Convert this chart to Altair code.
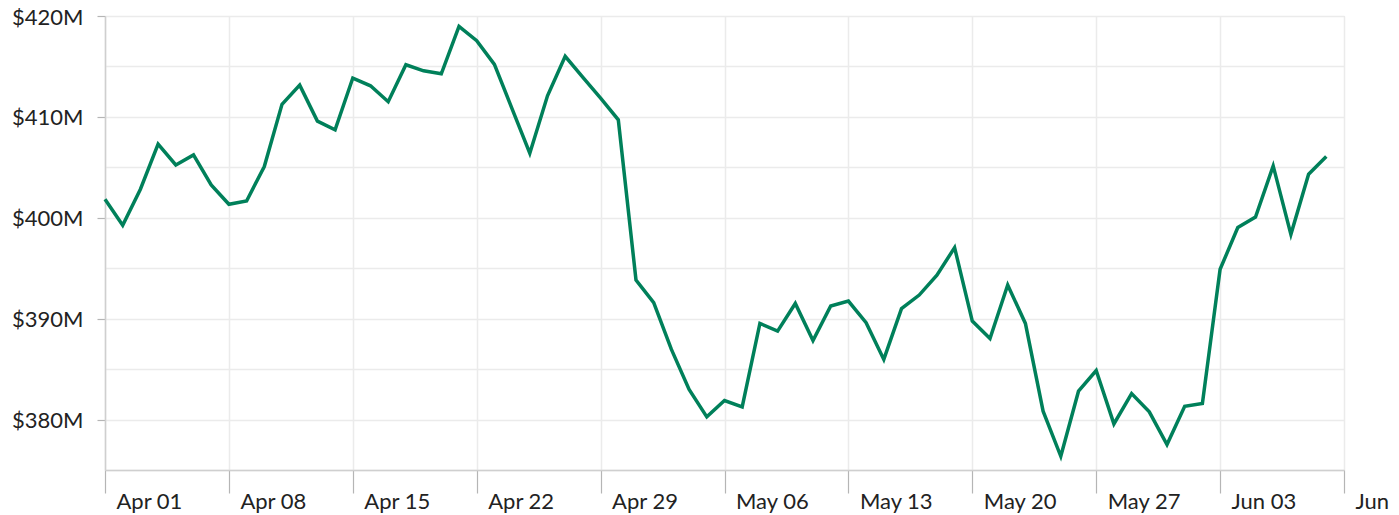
import altair as alt
import pandas as pd

# Daily values (in $M), Apr 01 .. Jun 09
apr_values = [401.84, 399.26, 402.83, 407.30, 405.24, 406.23, 403.26, 401.34, 401.67, 405.08,
              411.24, 413.15, 409.58, 408.72, 413.85, 413.08, 411.50, 415.17, 414.57, 414.27,
              418.97, 417.55, 415.20, 410.80, 406.40, 412.09, 416.00, 413.92, 411.86, 409.71]
may_values = [393.83, 391.58, 386.95, 382.98, 380.27, 381.89, 381.26, 389.53, 388.77, 391.51,
              387.84, 391.25, 391.74, 389.60, 385.96, 391.00, 392.34, 394.32, 397.04, 389.76,
              388.04, 393.33, 389.53, 380.83, 376.36, 382.81, 384.86, 379.57, 382.58, 380.76,
              377.52]
jun_values = [381.32, 381.59, 394.89, 399.03, 400.08, 405.14, 398.36, 404.32, 406.07]

values = apr_values + may_values + jun_values
start_date = "2024-04-01"
dates = pd.date_range(start_date, periods=len(values), freq="D").strftime("%Y-%m-%dT00:00:00").tolist()

week_ticks = ["2024-04-01", "2024-04-08", "2024-04-15", "2024-04-22", "2024-04-29", "2024-05-06",
              "2024-05-13", "2024-05-20", "2024-05-27", "2024-06-03", "2024-06-10"]
y_grid_values = [375, 380, 385, 390, 395, 400, 405, 410, 415, 420]

df = pd.DataFrame({"date": dates, "value": values})


def dt(s):
    y, m, d = (int(p) for p in s.split("-"))
    return alt.DateTime(year=y, month=m, date=d)


x_axis = alt.Axis(
    values=[dt(s) for s in week_ticks],
    format="%b %d",
    title=None,
    grid=True,
    gridColor="#ebebeb",
    gridWidth=1.5,
    domainColor="#cfcfcf",
    domainWidth=1.5,
    tickColor="#b5b5b5",
    tickWidth=1.2,
    tickSize=23,
    labelAlign="left",
    labelBaseline="alphabetic",
    labelPadding=15,
    labelOffset=11,
    labelFont="Lato",
    labelFontSize=22,
    labelColor="#222222",
    labelOverlap=False,
    labelFlush=False,
)

y_axis = alt.Axis(
    values=y_grid_values,
    labelExpr="datum.value % 10 === 0 ? '$' + datum.value + 'M' : ''",
    title=None,
    grid=True,
    gridColor="#ebebeb",
    gridWidth=1.5,
    domainColor="#cfcfcf",
    domainWidth=1.5,
    tickColor={"condition": {"test": "datum.value % 10 === 0", "value": "#b5b5b5"}, "value": "rgba(0,0,0,0)"},
    tickWidth=1.2,
    tickSize=8,
    labelPadding=14,
    labelBaseline="alphabetic",
    labelOffset=8,
    labelFont="Lato",
    labelFontSize=22,
    labelColor="#222222",
    labelOverlap=False,
    labelFlush=False,
)

chart = (
    alt.Chart(df)
    .mark_line(color="#00805a", strokeWidth=3.5, strokeJoin="miter")
    .encode(
        x=alt.X("date:T", scale=alt.Scale(domain=[dt(week_ticks[0]), dt(week_ticks[-1])]), axis=x_axis),
        y=alt.Y("value:Q", scale=alt.Scale(domain=[375, 420], nice=False, zero=False), axis=y_axis),
    )
    .properties(
        width=1239,
        height=454,
        autosize=alt.AutoSizeParams(type="none"),
        padding={"left": 97, "top": 8, "right": 47, "bottom": 45},
    )
    .configure_view(stroke=None)
    .configure(background="white")
)

chart.save("out.html", embed_options={"renderer": "svg", "actions": False})
